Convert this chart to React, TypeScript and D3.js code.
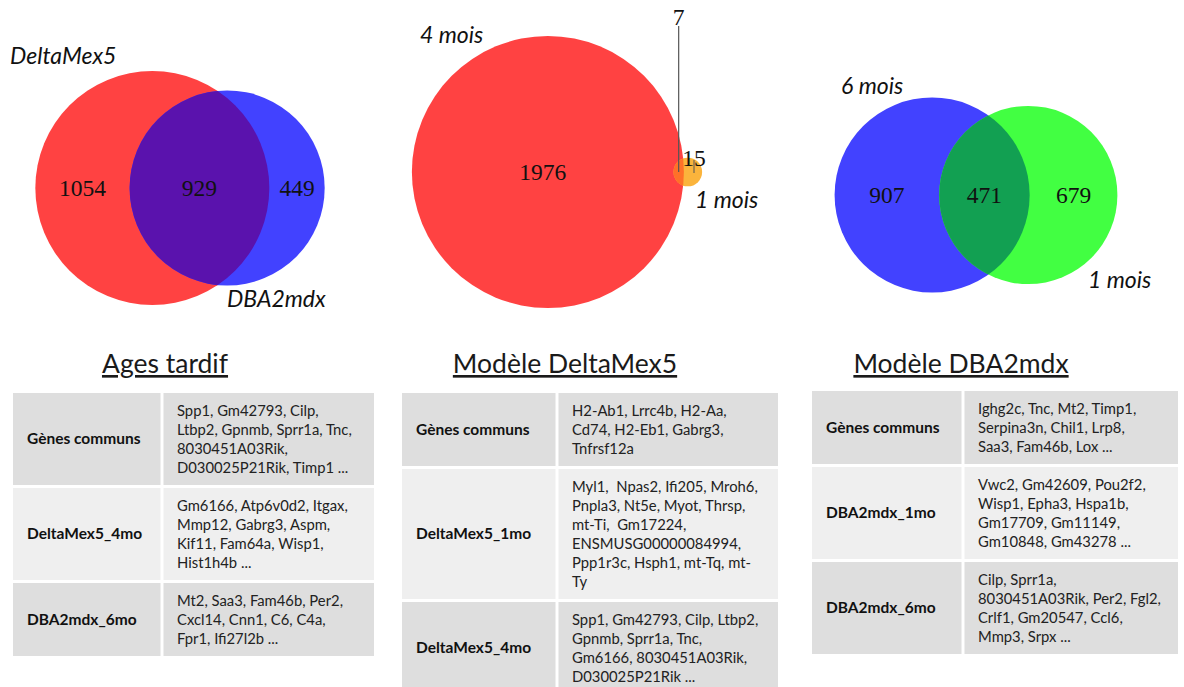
import React from 'react';
import * as d3 from 'd3';

// Venn counts: [only A, A∩B, only B]
const ageSets = ['DeltaMex5', 'DBA2mdx'];
const ageCounts = [1054, 929, 449];
const deltaSets = ['4 mois', '1 mois'];
const deltaCounts = [1976, 7, 15];
const dbaSets = ['6 mois', '1 mois'];
const dbaCounts = [907, 471, 679];

// tables
const tableTitles = ['Ages tardif', 'Modèle DeltaMex5', 'Modèle DBA2mdx'];
const ageRows = ['Gènes communs', 'DeltaMex5_4mo', 'DBA2mdx_6mo'];
const ageGenes = [
  ['Spp1, Gm42793, Cilp,', 'Ltbp2, Gpnmb, Sprr1a, Tnc,', '8030451A03Rik,', 'D030025P21Rik, Timp1 ...'],
  ['Gm6166, Atp6v0d2, Itgax,', 'Mmp12, Gabrg3, Aspm,', 'Kif11, Fam64a, Wisp1,', 'Hist1h4b ...'],
  ['Mt2, Saa3, Fam46b, Per2,', 'Cxcl14, Cnn1, C6, C4a,', 'Fpr1, Ifi27l2b ...'],
];
const deltaRows = ['Gènes communs', 'DeltaMex5_1mo', 'DeltaMex5_4mo'];
const deltaGenes = [
  ['H2-Ab1, Lrrc4b, H2-Aa,', 'Cd74, H2-Eb1, Gabrg3,', 'Tnfrsf12a'],
  ['Myl1,  Npas2, Ifi205, Mroh6,', 'Pnpla3, Nt5e, Myot, Thrsp,', 'mt-Ti,  Gm17224,', 'ENSMUSG00000084994,', 'Ppp1r3c, Hsph1, mt-Tq, mt-', 'Ty'],
  ['Spp1, Gm42793, Cilp, Ltbp2,', 'Gpnmb, Sprr1a, Tnc,', 'Gm6166, 8030451A03Rik,', 'D030025P21Rik ...'],
];
const dbaRows = ['Gènes communs', 'DBA2mdx_1mo', 'DBA2mdx_6mo'];
const dbaGenes = [
  ['Ighg2c, Tnc, Mt2, Timp1,', 'Serpina3n, Chil1, Lrp8,', 'Saa3, Fam46b, Lox ...'],
  ['Vwc2, Gm42609, Pou2f2,', 'Wisp1, Epha3, Hspa1b,', 'Gm17709, Gm11149,', 'Gm10848, Gm43278 ...'],
  ['Cilp, Sprr1a,', '8030451A03Rik, Per2, Fgl2,', 'Crlf1, Gm20547, Ccl6,', 'Mmp3, Srpx ...'],
];

const SANS = 'Lato, "Open Sans", sans-serif';
const SERIF = '"Liberation Serif", "DejaVu Serif", serif';

function lensArea(r1: number, r2: number, d: number) {
  if (d >= r1 + r2) return 0;
  if (d <= Math.abs(r1 - r2)) return Math.PI * Math.min(r1, r2) ** 2;
  const a = r1 * r1 * Math.acos((d * d + r1 * r1 - r2 * r2) / (2 * d * r1));
  const b = r2 * r2 * Math.acos((d * d + r2 * r2 - r1 * r1) / (2 * d * r2));
  const c = 0.5 * Math.sqrt((-d + r1 + r2) * (d + r1 - r2) * (d - r1 + r2) * (d + r1 + r2));
  return a + b - c;
}

// area-proportional two-circle layout, centres found by bisection on the overlap
function vennLayout(counts: number[], rMax: number, midX: number, cy: number) {
  const [a, ab, b] = counts;
  const r = d3.scaleSqrt().domain([0, 1983]).range([0, rMax]);
  const rA = r(a + ab);
  const rB = r(b + ab);
  const target = (Math.PI * rA * rA * ab) / (a + ab);
  let lo = Math.abs(rA - rB), hi = rA + rB;
  for (let i = 0; i < 60; i++) {
    const m = (lo + hi) / 2;
    if (lensArea(rA, rB, m) > target) lo = m; else hi = m;
  }
  const d = (lo + hi) / 2;
  const cxA = midX - (d + rB - rA) / 2;
  const cxB = cxA + d;
  return {
    rA, rB, cxA, cxB, cy,
    xA: (cxA - rA + cxB - rB) / 2,
    xAB: (cxB - rB + cxA + rA) / 2,
    xB: (cxA + rA + cxB + rB) / 2,
  };
}

type Panel = {
  id: string; sets: string[]; counts: number[]; rMax: number; midX: number; cy: number;
  colors: string[]; labels: [number, number][]; callout?: boolean;
};

const panels: Panel[] = [
  { id: 'v1', sets: ageSets, counts: ageCounts, rMax: 117, midX: 180, cy: 188,
    colors: ['#ff4242', '#4242ff', '#5a12ad'], labels: [[10, 64], [227, 307]] },
  { id: 'v2', sets: deltaSets, counts: deltaCounts, rMax: 136, midX: 557, cy: 172,
    colors: ['#ff4242', '#fbb43c', '#ff7028'], labels: [[420, 43], [695, 208]], callout: true },
  { id: 'v3', sets: dbaSets, counts: dbaCounts, rMax: 117, midX: 976, cy: 195,
    colors: ['#4242ff', '#42ff42', '#12a052'], labels: [[841, 94], [1088, 288]] },
];

function Venn({ p }: { p: Panel }) {
  const L = vennLayout(p.counts, p.rMax, p.midX, p.cy);
  const [a, ab, b] = p.counts;
  return (
    <g>
      <defs>
        <clipPath id={`clip-${p.id}`}>
          <circle cx={L.cxA} cy={L.cy} r={L.rA} />
        </clipPath>
      </defs>
      <circle cx={L.cxA} cy={L.cy} r={L.rA} fill={p.colors[0]} />
      <circle cx={L.cxB} cy={L.cy} r={L.rB} fill={p.colors[1]} />
      <circle cx={L.cxB} cy={L.cy} r={L.rB} fill={p.colors[2]} clipPath={`url(#clip-${p.id})`} />
      <g fontFamily={SERIF} fontSize={23.5} fill="#111" textAnchor="middle">
        <text x={L.xA} y={L.cy + 8}>{a}</text>
        {p.callout ? (
          <>
            <line x1={L.xAB} x2={L.xAB} y1={26} y2={L.cy} stroke="#555" strokeWidth={1.2} />
            <text x={L.xAB} y={25}>{ab}</text>
            <text x={L.xB + 1} y={L.cy - 6}>{b}</text>
            <line x1={L.xB + 1} x2={L.xB + 1} y1={L.cy - 12} y2={L.cy + 1} stroke="#555" strokeWidth={1} />
          </>
        ) : (
          <>
            <text x={L.xAB} y={L.cy + 8}>{ab}</text>
            <text x={L.xB} y={L.cy + 8}>{b}</text>
          </>
        )}
      </g>
      <g fontFamily={SANS} fontStyle="italic" fontSize={23} fill="#111">
        {p.sets.map((s, i) => (
          <text key={s + i} x={p.labels[i][0]} y={p.labels[i][1]}>{s}</text>
        ))}
      </g>
    </g>
  );
}

type TableSpec = {
  title: string; titleX: number; rows: string[]; genes: string[][];
  x0: number; xs: number; x1: number; y0: number;
};

const tables: TableSpec[] = [
  { title: tableTitles[0], titleX: 165, rows: ageRows, genes: ageGenes, x0: 13, xs: 162, x1: 374, y0: 393 },
  { title: tableTitles[1], titleX: 565, rows: deltaRows, genes: deltaGenes, x0: 402, xs: 557, x1: 778, y0: 393 },
  { title: tableTitles[2], titleX: 961, rows: dbaRows, genes: dbaGenes, x0: 812, xs: 963, x1: 1178, y0: 391 },
];

const LINE_H = 19;
const GAP = 3;

function GeneTable({ t }: { t: TableSpec }) {
  const heights = t.genes.map((g) => g.length * LINE_H + 16);
  const tops = heights.map((_, i) => t.y0 + d3.sum(heights.slice(0, i)) + i * GAP);
  const fills = ['#dedede', '#efefef', '#dedede'];
  return (
    <g>
      <text x={t.titleX} y={373} textAnchor="middle" fontFamily={SANS} fontSize={26.5} fill="#1a1a1a"
        textDecoration="underline" style={{ textDecoration: 'underline' }}>{t.title}</text>
      {t.rows.map((row, i) => {
        const h = heights[i];
        const top = tops[i];
        const mid = top + h / 2;
        const lines = t.genes[i];
        return (
          <g key={row + i}>
            <rect x={t.x0} y={top} width={t.xs - t.x0 - GAP / 2} height={h} fill={fills[i]} />
            <rect x={t.xs + GAP / 2} y={top} width={t.x1 - t.xs - GAP / 2} height={h} fill={fills[i]} />
            <text x={t.x0 + 14} y={mid + 5} fontFamily={SANS} fontWeight="bold" fontSize={15.5} fill="#111">{row}</text>
            <g fontFamily={SANS} fontSize={14.8} fill="#222">
              {lines.map((ln, j) => (
                <text key={j} x={t.xs + 15} y={mid + 5 + (j - (lines.length - 1) / 2) * LINE_H} style={{ whiteSpace: 'pre' }}>{ln}</text>
              ))}
            </g>
          </g>
        );
      })}
    </g>
  );
}

export default function App() {
  return (
    <svg width={1184} height={687} style={{ position: 'absolute', left: 0, top: 0, background: '#fff' }}>
      <rect width={1184} height={687} fill="#fff" />
      {panels.map((p) => <Venn key={p.id} p={p} />)}
      {tables.map((t) => <GeneTable key={t.title} t={t} />)}
    </svg>
  );
}
